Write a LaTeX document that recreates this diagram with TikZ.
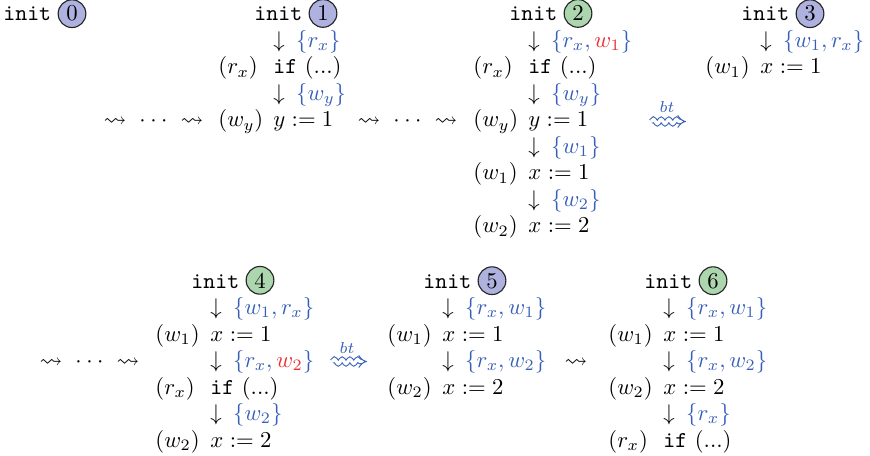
\documentclass[tikz,border=0pt]{standalone}
\usepackage{amssymb}
\usetikzlibrary{decorations.pathmorphing,arrows.meta}
\definecolor{setblue}{RGB}{55,95,185}
\definecolor{setred}{RGB}{235,45,45}
\definecolor{cblue}{RGB}{175,178,222}
\definecolor{cgreen}{RGB}{172,214,174}
\tikzset{
  lbl/.style={anchor=base west, inner sep=0pt},
  sq/.style={anchor=base, inner sep=0pt},
  st/.style={circle, draw=black!85, line width=0.5pt, minimum size=12.2pt, inner sep=0pt, anchor=base},
  stb/.style={st, fill=cblue},
  stg/.style={st, fill=cgreen},
  btarrow/.style={draw=setblue, line width=0.45pt, double=white, double distance=1.5pt,
    decorate, decoration={snake, amplitude=0.9pt, segment length=3.4pt, post length=3pt},
    -{Implies}},
  btlbl/.style={text=setblue, inner sep=0pt},
}
\newcommand{\MyStmt}[5]{%
  \node[lbl] (#1l) at (#2,#3) {$#4$};
  \node[lbl] (#1s) at (#2+55,#3) {#5};}
\newcommand{\MyArr}[4]{%
  \node[lbl] (#1) at (#2+55,#3) {$\downarrow$\hspace{5pt}\textcolor{setblue}{$\{#4\}$}};}
\newcommand{\MyInit}[5]{%
  \node[lbl] (#1i) at (#2+36,#3) {\texttt{init}};
  \node[#5] (#1c) at (#2+105,#3) {#4};}
\newcommand{\MyDots}{$\rightsquigarrow\hspace{3pt}{\cdot}\hspace{2pt}{\cdot}\hspace{2pt}{\cdot}\hspace{3pt}\rightsquigarrow$}
\newcommand{\MyIf}{\texttt{if} (...)}
\begin{document}
\begin{tikzpicture}[x=0.44pt,y=-0.44pt]
\useasboundingbox (0,0) rectangle (870,456);
% block 0
\MyInit{b0}{-33}{21}{0}{stb}
% block 1
\MyInit{b1}{218}{21}{1}{stb}
\MyArr{b1a1}{218}{47.5}{r_x}
\MyStmt{b1r2}{218}{74}{(r_x)}{\MyIf}
\MyArr{b1a3}{218}{100.5}{w_y}
\MyStmt{b1r4}{218}{127}{(w_y)}{$y := 1$}
% block 2
\MyInit{b2}{473}{21}{2}{stg}
\MyArr{b2a1}{473}{47.5}{r_x, \textcolor{setred}{w_1}}
\MyStmt{b2r2}{473}{74}{(r_x)}{\MyIf}
\MyArr{b2a3}{473}{100.5}{w_y}
\MyStmt{b2r4}{473}{127}{(w_y)}{$y := 1$}
\MyArr{b2a5}{473}{153.5}{w_1}
\MyStmt{b2r6}{473}{180}{(w_1)}{$x := 1$}
\MyArr{b2a7}{473}{206.5}{w_2}
\MyStmt{b2r8}{473}{233}{(w_2)}{$x := 2$}
% block 3
\MyInit{b3}{705}{21}{3}{stb}
\MyArr{b3a1}{705}{47.5}{w_1, r_x}
\MyStmt{b3r2}{705}{74}{(w_1)}{$x := 1$}
% block 4
\MyInit{b4}{155}{288}{4}{stg}
\MyArr{b4a1}{155}{314.5}{w_1, r_x}
\MyStmt{b4r2}{155}{341}{(w_1)}{$x := 1$}
\MyArr{b4a3}{155}{367.5}{r_x, \textcolor{setred}{w_2}}
\MyStmt{b4r4}{155}{394}{(r_x)}{\MyIf}
\MyArr{b4a5}{155}{420.5}{w_2}
\MyStmt{b4r6}{155}{447}{(w_2)}{$x := 2$}
% block 5
\MyInit{b5}{387}{288}{5}{stb}
\MyArr{b5a1}{387}{314.5}{r_x, w_1}
\MyStmt{b5r2}{387}{341}{(w_1)}{$x := 1$}
\MyArr{b5a3}{387}{367.5}{r_x, w_2}
\MyStmt{b5r4}{387}{394}{(w_2)}{$x := 2$}
% block 6
\MyInit{b6}{608}{288}{6}{stg}
\MyArr{b6a1}{608}{314.5}{r_x, w_1}
\MyStmt{b6r2}{608}{341}{(w_1)}{$x := 1$}
\MyArr{b6a3}{608}{367.5}{r_x, w_2}
\MyStmt{b6r4}{608}{394}{(w_2)}{$x := 2$}
\MyArr{b6a5}{608}{420.5}{r_x}
\MyStmt{b6r6}{608}{447}{(r_x)}{\MyIf}
% leadsto
\node[sq] (lt1) at (153.5,127) {\MyDots};
\node[sq] (lt2) at (407.5,127) {\MyDots};
\node[sq] (lt3) at (89.5,367.5) {\MyDots};
\node[sq] (lt4) at (576,367.5) {$\rightsquigarrow$};
% bt arrows
\coordinate (bt1s) at (651,121.5);
\coordinate (bt1e) at (686,121.5);
\draw[btarrow] (bt1s) -- (bt1e);
\node[btlbl] (bt1l) at (667,107) {$\scriptstyle bt$};
\coordinate (bt2s) at (332,361.5);
\coordinate (bt2e) at (367,361.5);
\draw[btarrow] (bt2s) -- (bt2e);
\node[btlbl] (bt2l) at (347,348) {$\scriptstyle bt$};
\end{tikzpicture}
\end{document}
